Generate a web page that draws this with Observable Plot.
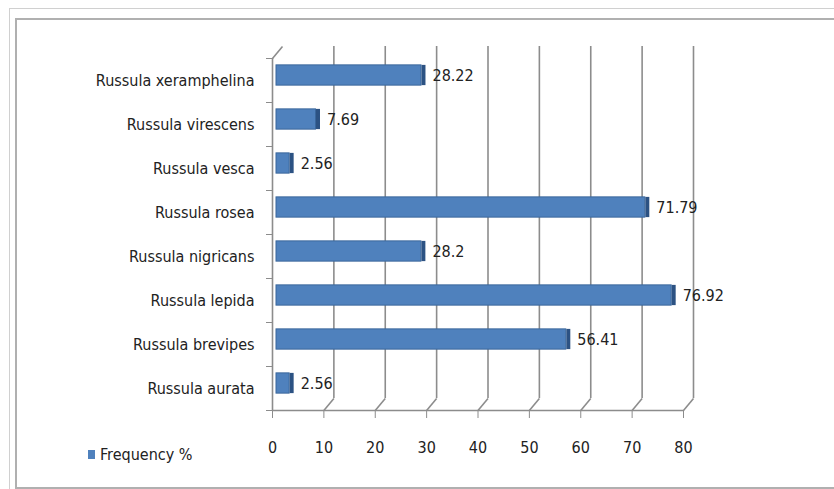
<!DOCTYPE html>
<html>
<head>
<meta charset="utf-8">
<script src="https://cdn.jsdelivr.net/npm/d3@7"></script>
<script src="https://cdn.jsdelivr.net/npm/@observablehq/plot@0.6"></script>
<style>
  html, body { margin: 0; padding: 0; background: #fff; }
  #wrap { position: relative; width: 834px; height: 489px; overflow: hidden; }
  #outer { position: absolute; left: 9px; top: 8px; width: 900px; height: 600px; border-left: 1px solid #d0d0d0; border-top: 1px solid #d0d0d0; }
  #inner { position: absolute; left: 15px; top: 18px; width: 900px; height: 467px; border: 2px solid #b0b0b0; border-right: none; }
  #chart { position: absolute; left: 0; top: 0; }
  #legend { position: absolute; left: 88px; top: 445px; font: 16px "Liberation Sans Narrow", "DejaVu Sans Condensed", sans-serif; color: #222; display: flex; align-items: center; }
  #legend .sw { width: 7px; height: 9px; background: #4f81bd; margin-right: 5px; }
</style>
</head>
<body>
<div id="wrap">
  <div id="outer"></div>
  <div id="inner"></div>
  <div id="chart"></div>
  <div id="legend"><span class="sw"></span><span>Frequency %</span></div>
</div>
<script>
// Categories listed bottom to top
const categories = ["Russula aurata", "Russula brevipes", "Russula lepida", "Russula nigricans",
                    "Russula rosea", "Russula vesca", "Russula virescens", "Russula xeramphelina"];
const values = [2.56, 56.41, 76.92, 28.2, 71.79, 2.56, 7.69, 28.22];
const valueLabels = ["2.56", "56.41", "76.92", "28.2", "71.79", "2.56", "7.69", "28.22"];
const xTicks = [0, 10, 20, 30, 40, 50, 60, 70, 80];
const seriesName = "Frequency %";

const data = categories.map((c, i) => ({category: c, idx: i, value: values[i], label: valueLabels[i]}));

const W = 834, H = 489;
const mL = 272, mR = 151, mT = 58, mB = 79;
const pxPerX = (W - mL - mR) / 80;
const pxPerY = (H - mT - mB) / 8;
// 3D depth offsets (pixels) converted to data units
const depthX = 10 / pxPerX, depthY = 12 / pxPerY;
const half = 0.23;
const font = '"Liberation Sans Narrow", "DejaVu Sans Condensed", sans-serif';
const grid = "#8c8c8c";

const backTicks = xTicks.filter(t => t > 0);

const chart = Plot.plot({
  width: W, height: H,
  marginLeft: mL, marginRight: mR, marginTop: mT, marginBottom: mB,
  style: {fontFamily: font, fontSize: "16px", color: "#222", background: "transparent"},
  x: {domain: [0, 80]},
  y: {domain: [0, 8]},
  marks: [
    // back gridlines
    Plot.ruleX(backTicks, {x: d => d, dx: 10, dy: -12, stroke: grid, strokeWidth: 1.6}),
    // floor slants from back gridlines to front axis
    Plot.link(backTicks, {x1: d => d, y1: 0, x2: d => d + depthX, y2: depthY, stroke: grid, strokeWidth: 1.6}),
    // left wall front line and top slant
    Plot.ruleX([0], {stroke: grid, strokeWidth: 1.6}),
    Plot.link([0], {x1: 0, y1: 8, x2: depthX, y2: 8 + depthY, stroke: grid, strokeWidth: 1.6}),
    // front bottom axis line
    Plot.ruleY([0], {stroke: grid, strokeWidth: 1.6}),
    // bars
    Plot.rect(data, {x1: 0, x2: "value", y1: d => d.idx + 0.5 - half, y2: d => d.idx + 0.5 + half,
      fill: "#4f81bd", stroke: "#3a679c", strokeWidth: 1, dx: 4, dy: -5}),
    Plot.ruleX(data, {x: "value", y1: d => d.idx + 0.5 - half, y2: d => d.idx + 0.5 + half,
      stroke: "#2c5283", strokeWidth: 4, dx: 6, dy: -5}),
    // value labels
    Plot.text(data, {x: "value", y: d => d.idx + 0.5, text: "label", textAnchor: "start",
      dx: 15, dy: -5, fill: "#222", fontSize: 16}),
    // axes
    Plot.axisY({ticks: d3.range(0, 9), tickSize: 6, tickFormat: () => "", stroke: grid}),
    Plot.axisY({ticks: categories.map((c, i) => i + 0.5), tickSize: 0, tickPadding: 18,
      tickFormat: v => categories[Math.floor(v)], fontSize: 16, fill: "#222"}),
    Plot.axisX({ticks: xTicks, tickSize: 8, tickPadding: 23, stroke: grid, fontSize: 16, fill: "#222",
      tickFormat: d => String(d), label: null})
  ]
});
document.getElementById("chart").appendChild(chart);
document.querySelector("#legend span:last-child").textContent = seriesName;
</script>
</body>
</html>
